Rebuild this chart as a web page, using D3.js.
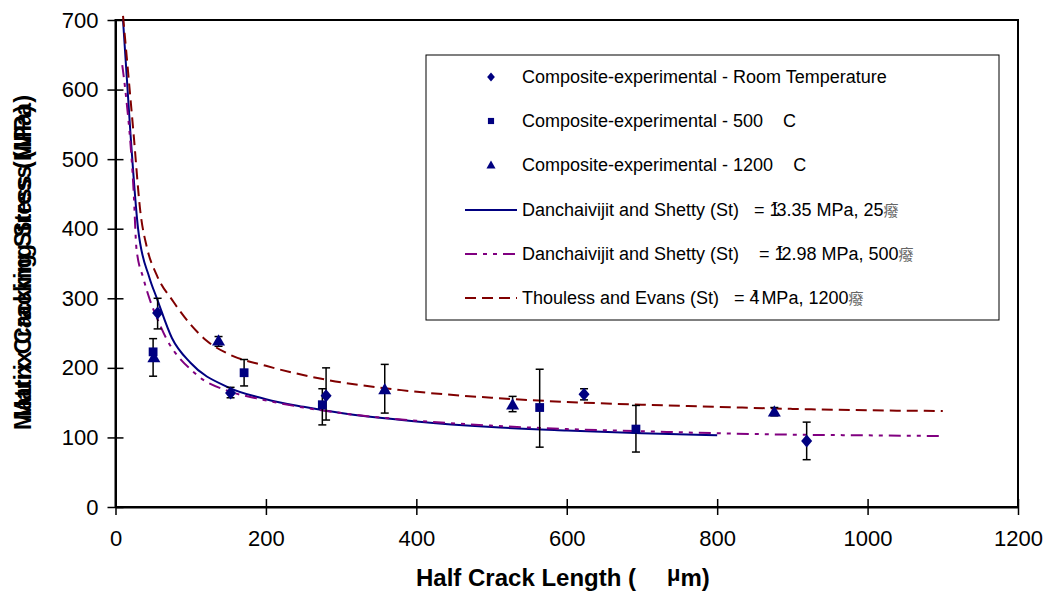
<!DOCTYPE html>
<html>
<head>
<meta charset="utf-8">
<script src="https://cdn.jsdelivr.net/npm/d3@7"></script>
<style>
  html, body { margin: 0; padding: 0; background: #fff; }
  svg { display: block; font-family: "Liberation Sans", Arial, sans-serif; }
  text { white-space: pre; }
</style>
</head>
<body>
<svg id="chart" width="1045" height="592"></svg>
<script>
// ── data ─────────────────────────────────────────────────────────────
// Composite-experimental – room temperature (diamonds)
const rtX  = [56, 153, 280, 623, 919];
const rtY  = [279, 164, 160, 162, 95];
const rtLo = [256, 157, 125, 154, 68];
const rtHi = [300, 172, 200, 170, 122];
// Composite-experimental – 500 C (squares)
const c500X  = [50, 171, 275, 564, 692];
const c500Y  = [223, 193, 147, 143, 112];
const c500Lo = [188, 174, 118, 86, 79];
const c500Hi = [242, 212, 170, 198, 146];
// Composite-experimental – 1200 C (triangles)
const c1200X  = [51, 137, 358, 528, 876];
const c1200Y  = [215, 239, 169, 147, 137];
const c1200Lo = [null, 231, 135, 137, 131];
const c1200Hi = [null, 245, 205, 159, 143];

// model curves
const dsRtX = [10, 20, 30, 45, 55, 75, 100, 150, 200, 250, 300, 400, 500, 600, 700, 800];
const dsRtY = [700, 535, 400, 330, 300, 243, 207, 172, 155, 144, 135, 123, 115, 110, 106, 103];
const ds500X = [9, 13, 24, 28, 37, 61, 108, 152, 188, 250, 300, 400, 500, 600, 700, 800, 900, 1000, 1100];
const ds500Y = [635, 600, 456, 370, 329, 257, 190, 166, 156, 143, 135, 124, 117, 112, 109, 106, 104, 103, 102];
const teX = [10, 24, 33, 42, 55, 77, 100, 120, 150, 200, 280, 380, 500, 600, 700, 800, 900, 1000, 1100];
const teY = [706, 537, 425, 372, 333, 295, 262, 240, 220, 203, 183, 168, 157, 151, 147, 144, 141, 139, 138];

const xTicks = [0, 200, 400, 600, 800, 1000, 1200];
const yTicks = [0, 100, 200, 300, 400, 500, 600, 700];

// ── layout ────────────────────────────────────────────────────────────
const NAVY = '#000080', PURPLE = '#800080', MAROON = '#800000';
const svg = d3.select('#chart');
const x = d3.scaleLinear().domain([0, 1200]).range([115.5, 1018]);
const y = d3.scaleLinear().domain([0, 700]).range([507, 20]);

// plot frame
svg.append('rect')
  .attr('x', x(0)).attr('y', y(700))
  .attr('width', x(1200) - x(0)).attr('height', y(0) - y(700))
  .attr('fill', 'none').attr('stroke', '#000').attr('stroke-width', 2);

// axes (ticks cross the axis line)
const xAxis = svg.append('g').attr('transform', `translate(0,${y(0)})`)
  .call(d3.axisBottom(x).tickValues(xTicks).tickFormat(d3.format('d'))
    .tickSize(8).tickSizeOuter(0).tickPadding(15));
xAxis.selectAll('.tick line').attr('y1', -8);
const yAxis = svg.append('g').attr('transform', `translate(${x(0)},0)`)
  .call(d3.axisLeft(y).tickValues(yTicks).tickSize(8).tickSizeOuter(0).tickPadding(9));
yAxis.selectAll('.tick line').attr('x1', 8);
[xAxis, yAxis].forEach(g => {
  g.select('.domain').attr('stroke', '#000').attr('stroke-width', 2);
  g.selectAll('.tick line').attr('stroke', '#000').attr('stroke-width', 1.5);
  g.selectAll('.tick text').attr('font-size', 22).attr('fill', '#000')
    .attr('font-family', '"Liberation Sans", Arial, sans-serif');
});

// axis titles
const xt = svg.append('text').attr('y', 586).attr('font-size', 24).attr('font-weight', 'bold');
xt.append('tspan').attr('x', 416).text('Half Crack Length (');
xt.append('tspan').attr('x', 667).attr('dy', -5).attr('font-size', 22).text('\u03bc');
xt.append('tspan').attr('dy', 5).text('m)');

// y title is printed twice, slightly shifted, as in the source
[0, 10].forEach(off => {
  svg.append('text')
    .attr('transform', `translate(31,${267.5 - off}) rotate(-90)`)
    .attr('text-anchor', 'middle')
    .attr('font-size', 23).attr('font-weight', 'bold')
    .attr('textLength', 325).attr('lengthAdjust', 'spacingAndGlyphs')
    .text('Matrix Cracking Stress (MPa)');
});

// curves
const line = d3.line().x(d => x(d[0])).y(d => y(d[1])).curve(d3.curveMonotoneX);
const curves = [
  { xs: dsRtX, ys: dsRtY, color: NAVY, dash: null },
  { xs: ds500X, ys: ds500Y, color: PURPLE, dash: '12,6,4,6,4,6' },
  { xs: teX, ys: teY, color: MAROON, dash: '11,6' }
];
curves.forEach(c => {
  svg.append('path').datum(c.xs.map((v, i) => [v, c.ys[i]]))
    .attr('d', line).attr('fill', 'none')
    .attr('stroke', c.color).attr('stroke-width', 2)
    .attr('stroke-dasharray', c.dash);
});

// marker shapes
function marker(kind, s) {
  if (kind === 'diamond') return `M0,${-s}L${s * 0.85},0L0,${s}L${-s * 0.85},0Z`;
  if (kind === 'square') return `M${-s * 0.8},${-s * 0.8}h${s * 1.6}v${s * 1.6}h${-s * 1.6}Z`;
  return `M0,${-s}L${s},${s * 0.75}L${-s},${s * 0.75}Z`;
}

const series = [
  { xs: rtX, ys: rtY, lo: rtLo, hi: rtHi, kind: 'diamond', size: 6.5 },
  { xs: c500X, ys: c500Y, lo: c500Lo, hi: c500Hi, kind: 'square', size: 5.5 },
  { xs: c1200X, ys: c1200Y, lo: c1200Lo, hi: c1200Hi, kind: 'triangle', size: 6.5 }
];

// error bars first, then markers on top
series.forEach(s => {
  s.xs.forEach((v, i) => {
    if (s.lo[i] == null) return;
    const g = svg.append('g').attr('stroke', '#000').attr('stroke-width', 1.5);
    g.append('line').attr('x1', x(v)).attr('x2', x(v)).attr('y1', y(s.lo[i])).attr('y2', y(s.hi[i]));
    [s.lo[i], s.hi[i]].forEach(e => g.append('line')
      .attr('x1', x(v) - 4).attr('x2', x(v) + 4).attr('y1', y(e)).attr('y2', y(e)));
  });
});
series.forEach(s => {
  svg.selectAll(null).data(s.xs.map((v, i) => [v, s.ys[i]])).enter()
    .append('path')
    .attr('transform', d => `translate(${x(d[0])},${y(d[1])})`)
    .attr('d', marker(s.kind, s.size))
    .attr('fill', NAVY);
});

// ── legend ────────────────────────────────────────────────────────────
const lg = svg.append('g');
lg.append('rect').attr('x', 426).attr('y', 55).attr('width', 573).attr('height', 265)
  .attr('fill', '#fff').attr('stroke', '#000').attr('stroke-width', 1);

const rowY = [77, 121, 165, 210, 254, 298];
const tx = 522, fs = 18;
const legendText = lg.append('g').attr('font-size', fs).attr('fill', '#000');

['Room Temperature', '500    C', '1200    C'].forEach((t, i) => {
  lg.append('path').attr('transform', `translate(491,${rowY[i]})`)
    .attr('d', marker(series[i].kind, series[i].size * 0.7)).attr('fill', NAVY);
  legendText.append('text').attr('x', tx).attr('y', rowY[i] + 6)
    .text('Composite-experimental - ' + t);
});

curves.forEach((c, i) => {
  lg.append('line').attr('x1', 465).attr('x2', 517)
    .attr('y1', rowY[i + 3]).attr('y2', rowY[i + 3])
    .attr('stroke', c.color).attr('stroke-width', 2)
    .attr('stroke-dasharray', c.dash);
});

// model rows: label, the τ that overprints one digit, and the garbled degree glyph
const modelRows = [
  { pre: 'Danchaivijit and Shetty (St)   = 1', post: '3.35 MPa, 25' },
  { pre: 'Danchaivijit and Shetty (St)    = 1', post: '2.98 MPa, 500' },
  { pre: 'Thouless and Evans (St)   = 4', post: ' MPa, 1200' }
];
modelRows.forEach((r, i) => {
  const t = legendText.append('text').attr('x', tx).attr('y', rowY[i + 3] + 6);
  t.append('tspan').text(r.pre);
  t.append('tspan').attr('dx', -7).attr('dy', -7).attr('font-size', 12).text('\u03c4');
  t.append('tspan').attr('dx', -1).attr('dy', 7).text(r.post);
  t.append('tspan').attr('font-family', '"Noto Sans CJK SC", sans-serif')
    .attr('font-size', 15).attr('fill', '#666').text('\u7648');
});
</script>
</body>
</html>
